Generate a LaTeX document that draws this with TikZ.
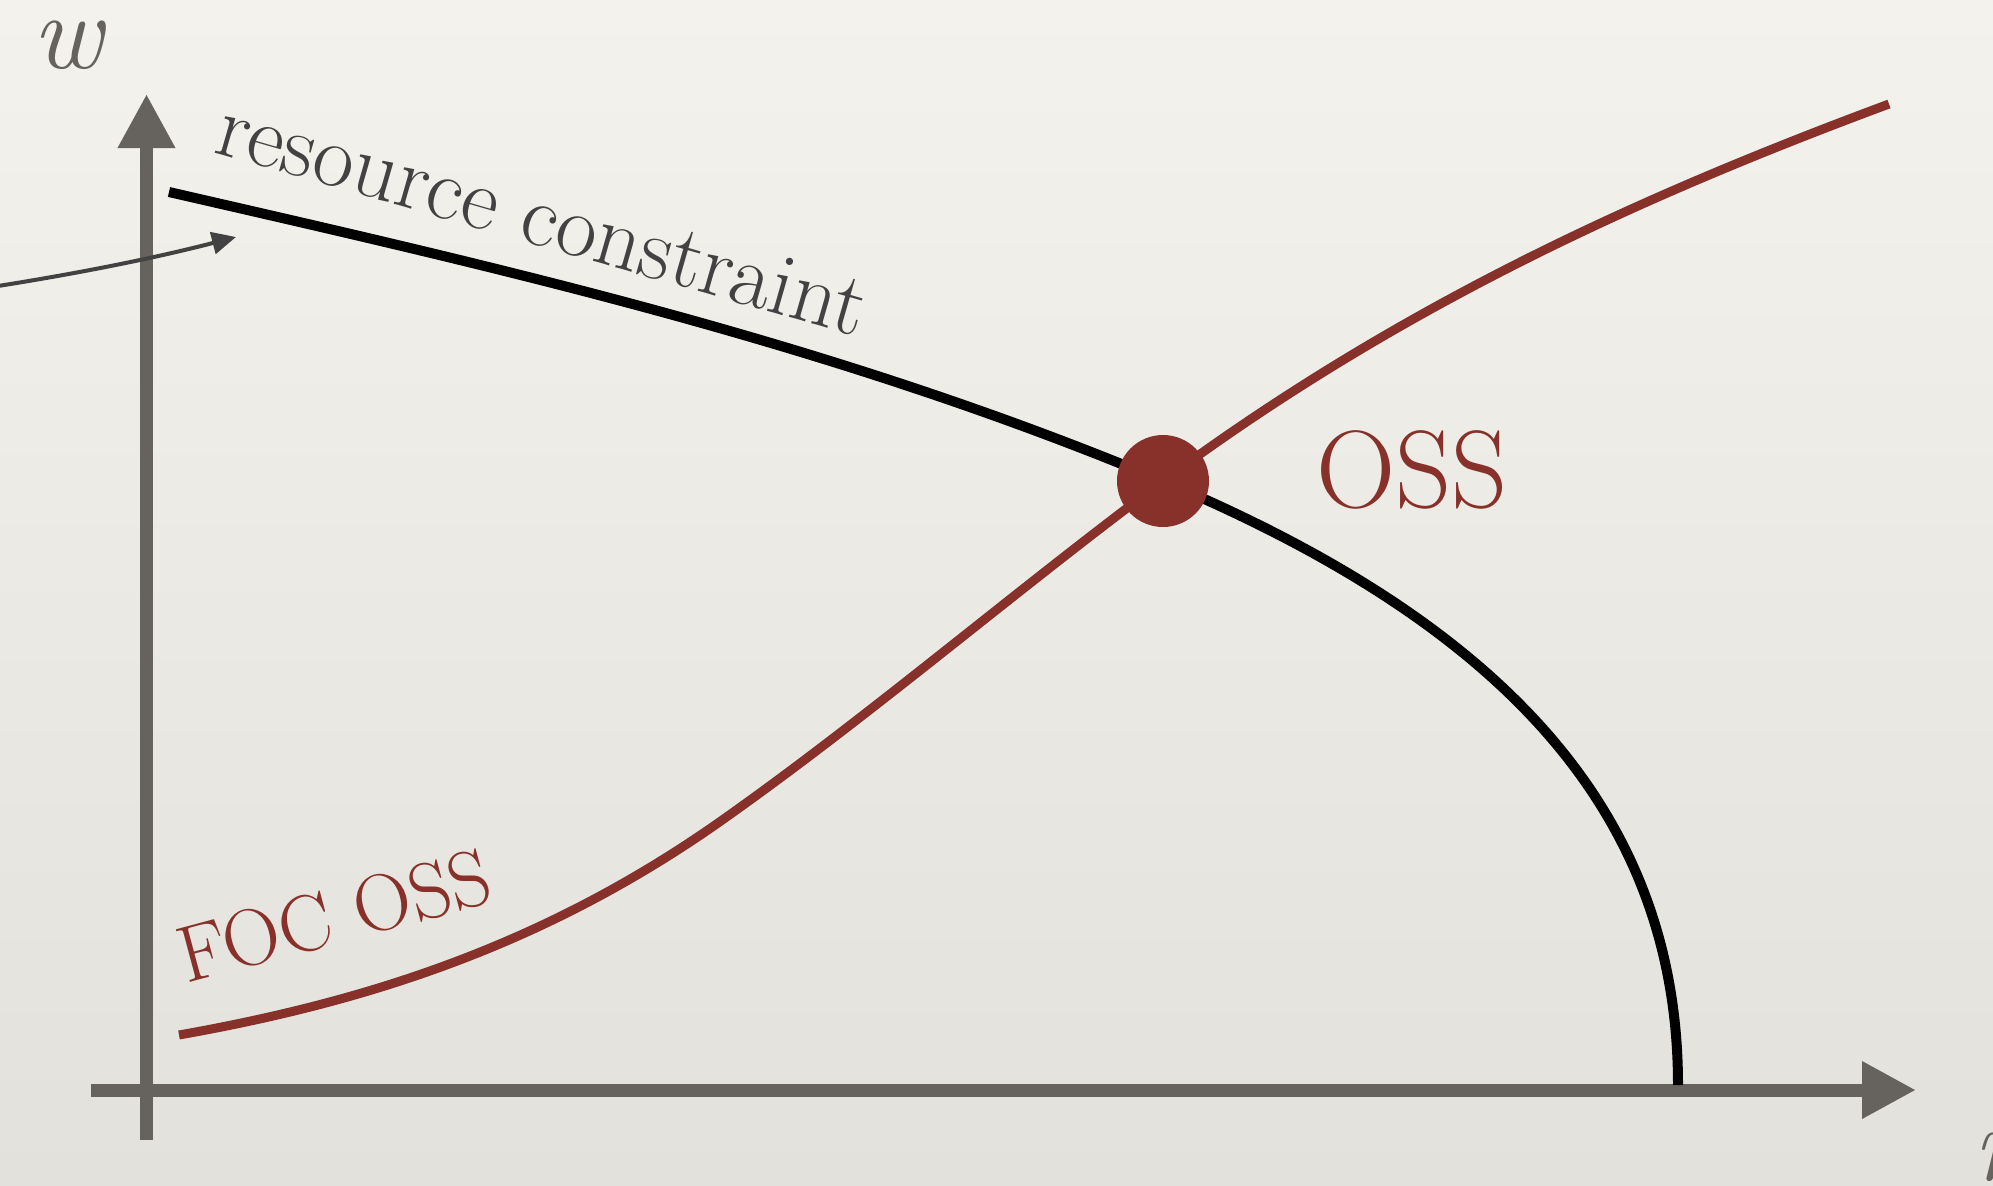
\documentclass[tikz,border=0pt]{standalone}
\usepackage{fontspec}
\usetikzlibrary{arrows.meta}
\definecolor{ossred}{HTML}{88302A}
\definecolor{axisgray}{HTML}{66635E}
\definecolor{txtgray}{HTML}{424242}
\definecolor{paperTop}{HTML}{F3F2ED}
\definecolor{paperBot}{HTML}{E2E1DB}
\begin{document}
\begin{tikzpicture}[x=0.5pt,y=-0.5pt,
  axisline/.style={draw=axisgray, line width=6.5pt, -{Triangle[length=27pt,width=27pt]}},
  constraintline/.style={draw=black, line width=5pt},
  focline/.style={draw=ossred, line width=4.5pt},
  pointer/.style={draw=txtgray, line width=2pt, -{Triangle[length=12pt,width=11pt]}},
  ossdot/.style={circle, fill=ossred, inner sep=0pt, minimum size=46pt},
  axislabel/.style={text=axisgray, font=\fontsize{54}{60}\selectfont\itshape, inner sep=0pt},
  rclabel/.style={text=txtgray, font=\fontsize{44.5}{52}\selectfont, inner sep=0pt},
  redlabel/.style={text=ossred, inner sep=0pt}]
\useasboundingbox (0,0) rectangle (1993,1185);
\shade[top color=paperTop, bottom color=paperBot] (0,0) rectangle (1993,1185);
\clip (0,0) rectangle (1993,1185);

% axes
\coordinate (xs) at (91,1090);
\coordinate (xe) at (1916,1090);
\coordinate (ys) at (146.5,1140);
\coordinate (ye) at (146.5,94);
\draw[axisline] (xs) -- (xe);
\draw[axisline] (ys) -- (ye);

% resource constraint
\coordinate (rcS) at (169,192);
\coordinate (rcE) at (1678,1085);
\coordinate (ossC) at (1163,481);
\draw[constraintline] (rcS) .. controls (500,268) and (830,342) .. (ossC)
   .. controls (1493,620) and (1678,805) .. (rcE);

% FOC OSS curve
\coordinate (focS) at (179,1035);
\coordinate (focM) at (718,823);
\coordinate (focE) at (1889,104);
\draw[focline] (focS) .. controls (359,1003) and (538,949) .. (focM)
   .. controls (866,719) and (1015,591) .. (ossC)
   .. controls (1405,302) and (1647,194) .. (focE);

% equilibrium dot
\node (oss) [ossdot] at (ossC) {};

% small arrow
\coordinate (arrS) at (-2,286);
\coordinate (arrE) at (236,237);
\draw[pointer] (arrS) .. controls (80,273) and (155,258) .. (arrE);

% labels
\node (lw) [axislabel, anchor=base] at (68,68) {w};
\node (ln) [axislabel, anchor=base west] at (1973,1180) {n};
\node (lrc) [rclabel, rotate=-16, anchor=base west] at (212,152) {resource constraint};
\node (lfoc) [redlabel, rotate=15, anchor=base west, font=\fontsize{40}{46}\selectfont] at (186,984) {FOC OSS};
\node (loss) [redlabel, anchor=base, font=\fontsize{55}{62}\selectfont] at (1412,507) {OSS};
\end{tikzpicture}
\end{document}
